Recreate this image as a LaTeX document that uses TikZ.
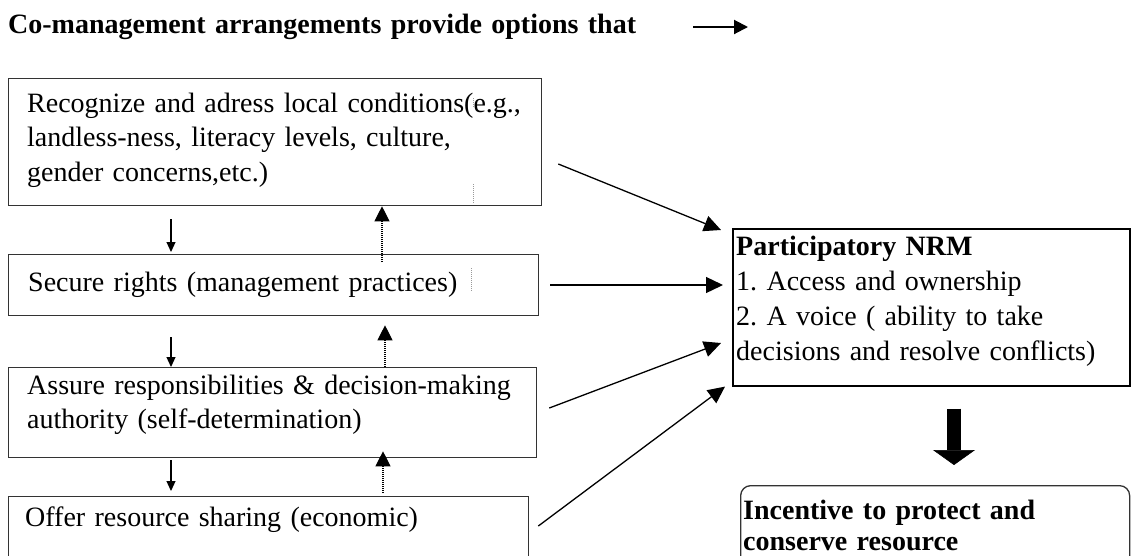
\documentclass[tikz,border=0pt]{standalone}
\usepackage{fontspec}
\setmainfont{Liberation Serif}
\usetikzlibrary{arrows.meta,calc}
\frenchspacing

\begin{document}
\begin{tikzpicture}[x=1pt,y=-1pt,
  boxframe/.style={draw=black!80, line width=1.3pt, inner sep=0pt, anchor=north west},
  body/.style={font=\fontsize{28}{34.5}\selectfont, inner sep=0pt, anchor=base west,
    align=left, text width=#1},
  body/.default=520pt,
  boldbody/.style={body=#1, font=\fontsize{28}{34.5}\selectfont\bfseries},
  boldbody/.default=520pt,
  link/.style={line width=1.3pt, -{Triangle[length=17pt,width=16pt]}},
  stepdown/.style={line width=1.1pt, -{Triangle[length=10pt,width=9pt]}},
  stepup/.style={line width=1.1pt, dash pattern=on 1pt off 1pt,
    -{Triangle[length=15pt,width=15pt]}},
  faint/.style={line width=0.6pt, black!40, dash pattern=on 1pt off 1pt},
]
\useasboundingbox (0,0) rectangle (1131,555);
\clip (0,0) rectangle (1131,555);
\fill[white] (0,0) rectangle (1131,555);

% heading with its arrow
\node[boldbody=700pt] (title) at (8,33) {Co-management arrangements provide options that};
\coordinate (tt0) at (693,27);
\coordinate (tt1) at (748,27);
\draw[line width=2pt, -{Triangle[length=14pt,width=14pt]}] (tt0) -- (tt1);

% left column of options
\node[boxframe, minimum width=533pt, minimum height=127pt] (b1) at (8,78) {};
\node[boxframe, minimum width=530pt, minimum height=61pt] (b2) at (8,254) {};
\node[boxframe, minimum width=528pt, minimum height=90pt] (b3) at (8,367) {};
\node[boxframe, minimum width=520pt, minimum height=80pt] (b4) at (8,496) {};

\node[body] (t1) at (27,112) {Recognize and adress local conditions(e.g.,\\landless-ness, literacy levels, culture,\\gender concerns,etc.)};
\node[body] (t2) at (28,291) {Secure rights (management practices)};
\node[body] (t3) at (27,394) {Assure responsibilities \& decision-making\\authority (self-determination)};
\node[body] (t4) at (25,526) {Offer resource sharing (economic)};

% right column: outcome boxes
\node[boxframe, draw=black, line width=1.6pt, minimum width=397pt, minimum height=157pt] (nrm) at (732,228) {};
\node[body=390pt, font=\fontsize{28}{35}\selectfont] (tn) at (736,255) {\textbf{Participatory NRM}\\1. Access and ownership\\2. A voice ( ability to take\\decisions and resolve conflicts)};

\node[boxframe, rounded corners=10pt, minimum width=389pt, minimum height=100pt] (inc) at (740,485) {};
\node[boldbody=380pt, font=\fontsize{28}{31}\selectfont\bfseries] (ti) at (743,519) {Incentive to protect and\\conserve resource};

% downward steps between options
\draw[stepdown] ($(b1.south west)+(163,13)$) -- ($(b2.north west)+(163,-2)$);
\draw[stepdown] ($(b2.south west)+(163,21)$) -- ($(b3.north west)+(163,0)$);
\draw[stepdown] ($(b3.south west)+(163,2)$) -- ($(b4.north west)+(163,-5)$);

% dotted feedback arrows
\draw[stepup] ($(b2.north west)+(374,8)$) -- ($(b1.south west)+(374,0)$);
\draw[stepup] ($(b3.north west)+(377,0)$) -- ($(b2.south west)+(377,9)$);
\draw[stepup] ($(b4.north west)+(375,-3)$) -- ($(b3.south west)+(375,-7)$);

% faint marks inside the boxes
\draw[faint] ($(b1.north west)+(465,20)$) -- ++(0,10);
\draw[faint] ($(b1.south west)+(465,-22)$) -- ++(0,20);
\draw[faint] ($(b2.north west)+(463,14)$) -- ++(0,23);

% options feeding participatory NRM
\draw[link] ($(b1.north east)+(16,86)$) -- ($(nrm.north west)+(-11,2)$);
\draw[link] ($(b2.north east)+(11,31)$) -- ($(nrm.north west)+(-9,57)$);
\draw[link] ($(b3.north east)+(12,41)$) -- ($(nrm.north west)+(-11,115)$);
\draw[link] ($(b4.north east)+(9,30)$) -- ($(nrm.south west)+(-7,0)$);

% block arrow to the incentive
\draw[line width=14pt, -{Triangle[length=15pt,width=42pt,line width=0.5pt]}]
  ($(nrm.south west)+(222,22)$) -- ($(inc.north west)+(214,-20)$);
\end{tikzpicture}
\end{document}
